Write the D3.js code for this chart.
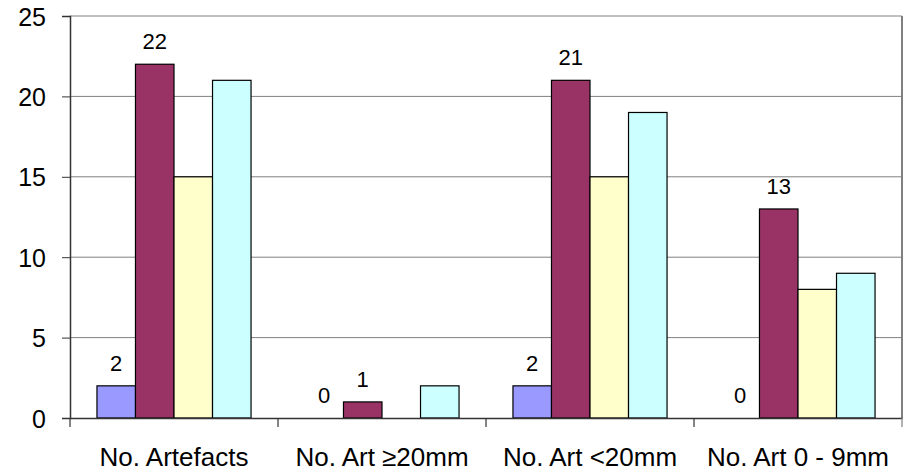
<!DOCTYPE html>
<html><head><meta charset="utf-8">
<script src="https://cdn.jsdelivr.net/npm/d3@7/dist/d3.min.js"></script>
<style>body{margin:0;background:#fff}svg{display:block}text{font-family:"Liberation Sans",Arial,sans-serif}</style>
</head><body>
<svg id="c" width="909" height="473"></svg>
<script>
const categories = ["No. Artefacts", "No. Art \u226520mm", "No. Art <20mm", "No. Art 0 - 9mm"];
const series1 = [2, 0, 2, 0];
const series2 = [22, 1, 21, 13];
const series3 = [15, 0, 15, 8];
const series4 = [21, 2, 19, 9];
const seriesList = [series1, series2, series3, series4];
const colors = ["#9999FF", "#993366", "#FFFFCC", "#CCFFFF"];
const labelled = [true, true, false, false];
const yTicks = [0, 5, 10, 15, 20, 25];

const svg = d3.select("#c");
const L = 70, R = 902, T = 16, B = 418;
const x = d3.scaleBand().domain(categories).range([L, R]).paddingInner(0).paddingOuter(0);
const xi = d3.scaleBand().domain(d3.range(4)).range([0, x.bandwidth()]).paddingOuter(0.7).paddingInner(0);
const y = d3.scaleLinear().domain([0, 25]).range([B, T]);

// gridlines
svg.append("g").selectAll("line").data(yTicks.filter(d => d > 0)).join("line")
  .attr("x1", L).attr("x2", R).attr("y1", d => y(d)).attr("y2", d => y(d))
  .attr("stroke", "#808080").attr("stroke-width", 1);
// right border
svg.append("line").attr("x1", R).attr("x2", R).attr("y1", T).attr("y2", B)
  .attr("stroke", "#808080").attr("stroke-width", 2);

// bars
const g = svg.append("g");
seriesList.forEach((s, si) => {
  g.selectAll(null).data(s.map((v, i) => ({v, c: categories[i]}))).join("rect")
    .filter(d => d.v > 0)
    .attr("x", d => x(d.c) + xi(si))
    .attr("width", xi.bandwidth())
    .attr("y", d => y(d.v))
    .attr("height", d => y(0) - y(d.v))
    .attr("fill", colors[si]).attr("stroke", "#000").attr("stroke-width", 1.2);
  if (labelled[si]) {
    g.selectAll(null).data(s.map((v, i) => ({v, c: categories[i]}))).join("text")
      .attr("x", d => x(d.c) + xi(si) + xi.bandwidth() / 2)
      .attr("y", d => y(d.v) - 15)
      .attr("text-anchor", "middle").attr("font-size", 22).attr("fill", "#000")
      .text(d => d.v);
  }
});

// y axis
const ya = svg.append("g").attr("transform", `translate(${L},0)`)
  .call(d3.axisLeft(y).tickValues(yTicks).tickSize(8).tickPadding(16).tickFormat(d3.format("d")));
ya.select(".domain").attr("stroke", "#333").attr("stroke-width", 1.5);
ya.selectAll(".tick line").attr("stroke", "#333");
ya.selectAll("text").attr("font-size", 25).attr("fill", "#000").style("font-family", '"Liberation Sans",Arial,sans-serif').attr("dy", "0.36em");

// x axis
const xa = svg.append("g").attr("transform", `translate(0,${B})`)
  .call(d3.axisBottom(x).tickSize(0).tickPadding(30));
xa.select(".domain").attr("stroke", "#333").attr("stroke-width", 1.5);
xa.selectAll("text").attr("font-size", 26).attr("fill", "#000").style("font-family", '"Liberation Sans",Arial,sans-serif');
const edges = categories.map(c => x(c)).concat([R]);
svg.append("g").selectAll("line").data(edges).join("line")
  .attr("x1", d => d).attr("x2", d => d).attr("y1", B).attr("y2", B + 9)
  .attr("stroke", (d, i) => i === edges.length - 1 ? "#808080" : "#333").attr("stroke-width", 1.2);
</script>
</body></html>
